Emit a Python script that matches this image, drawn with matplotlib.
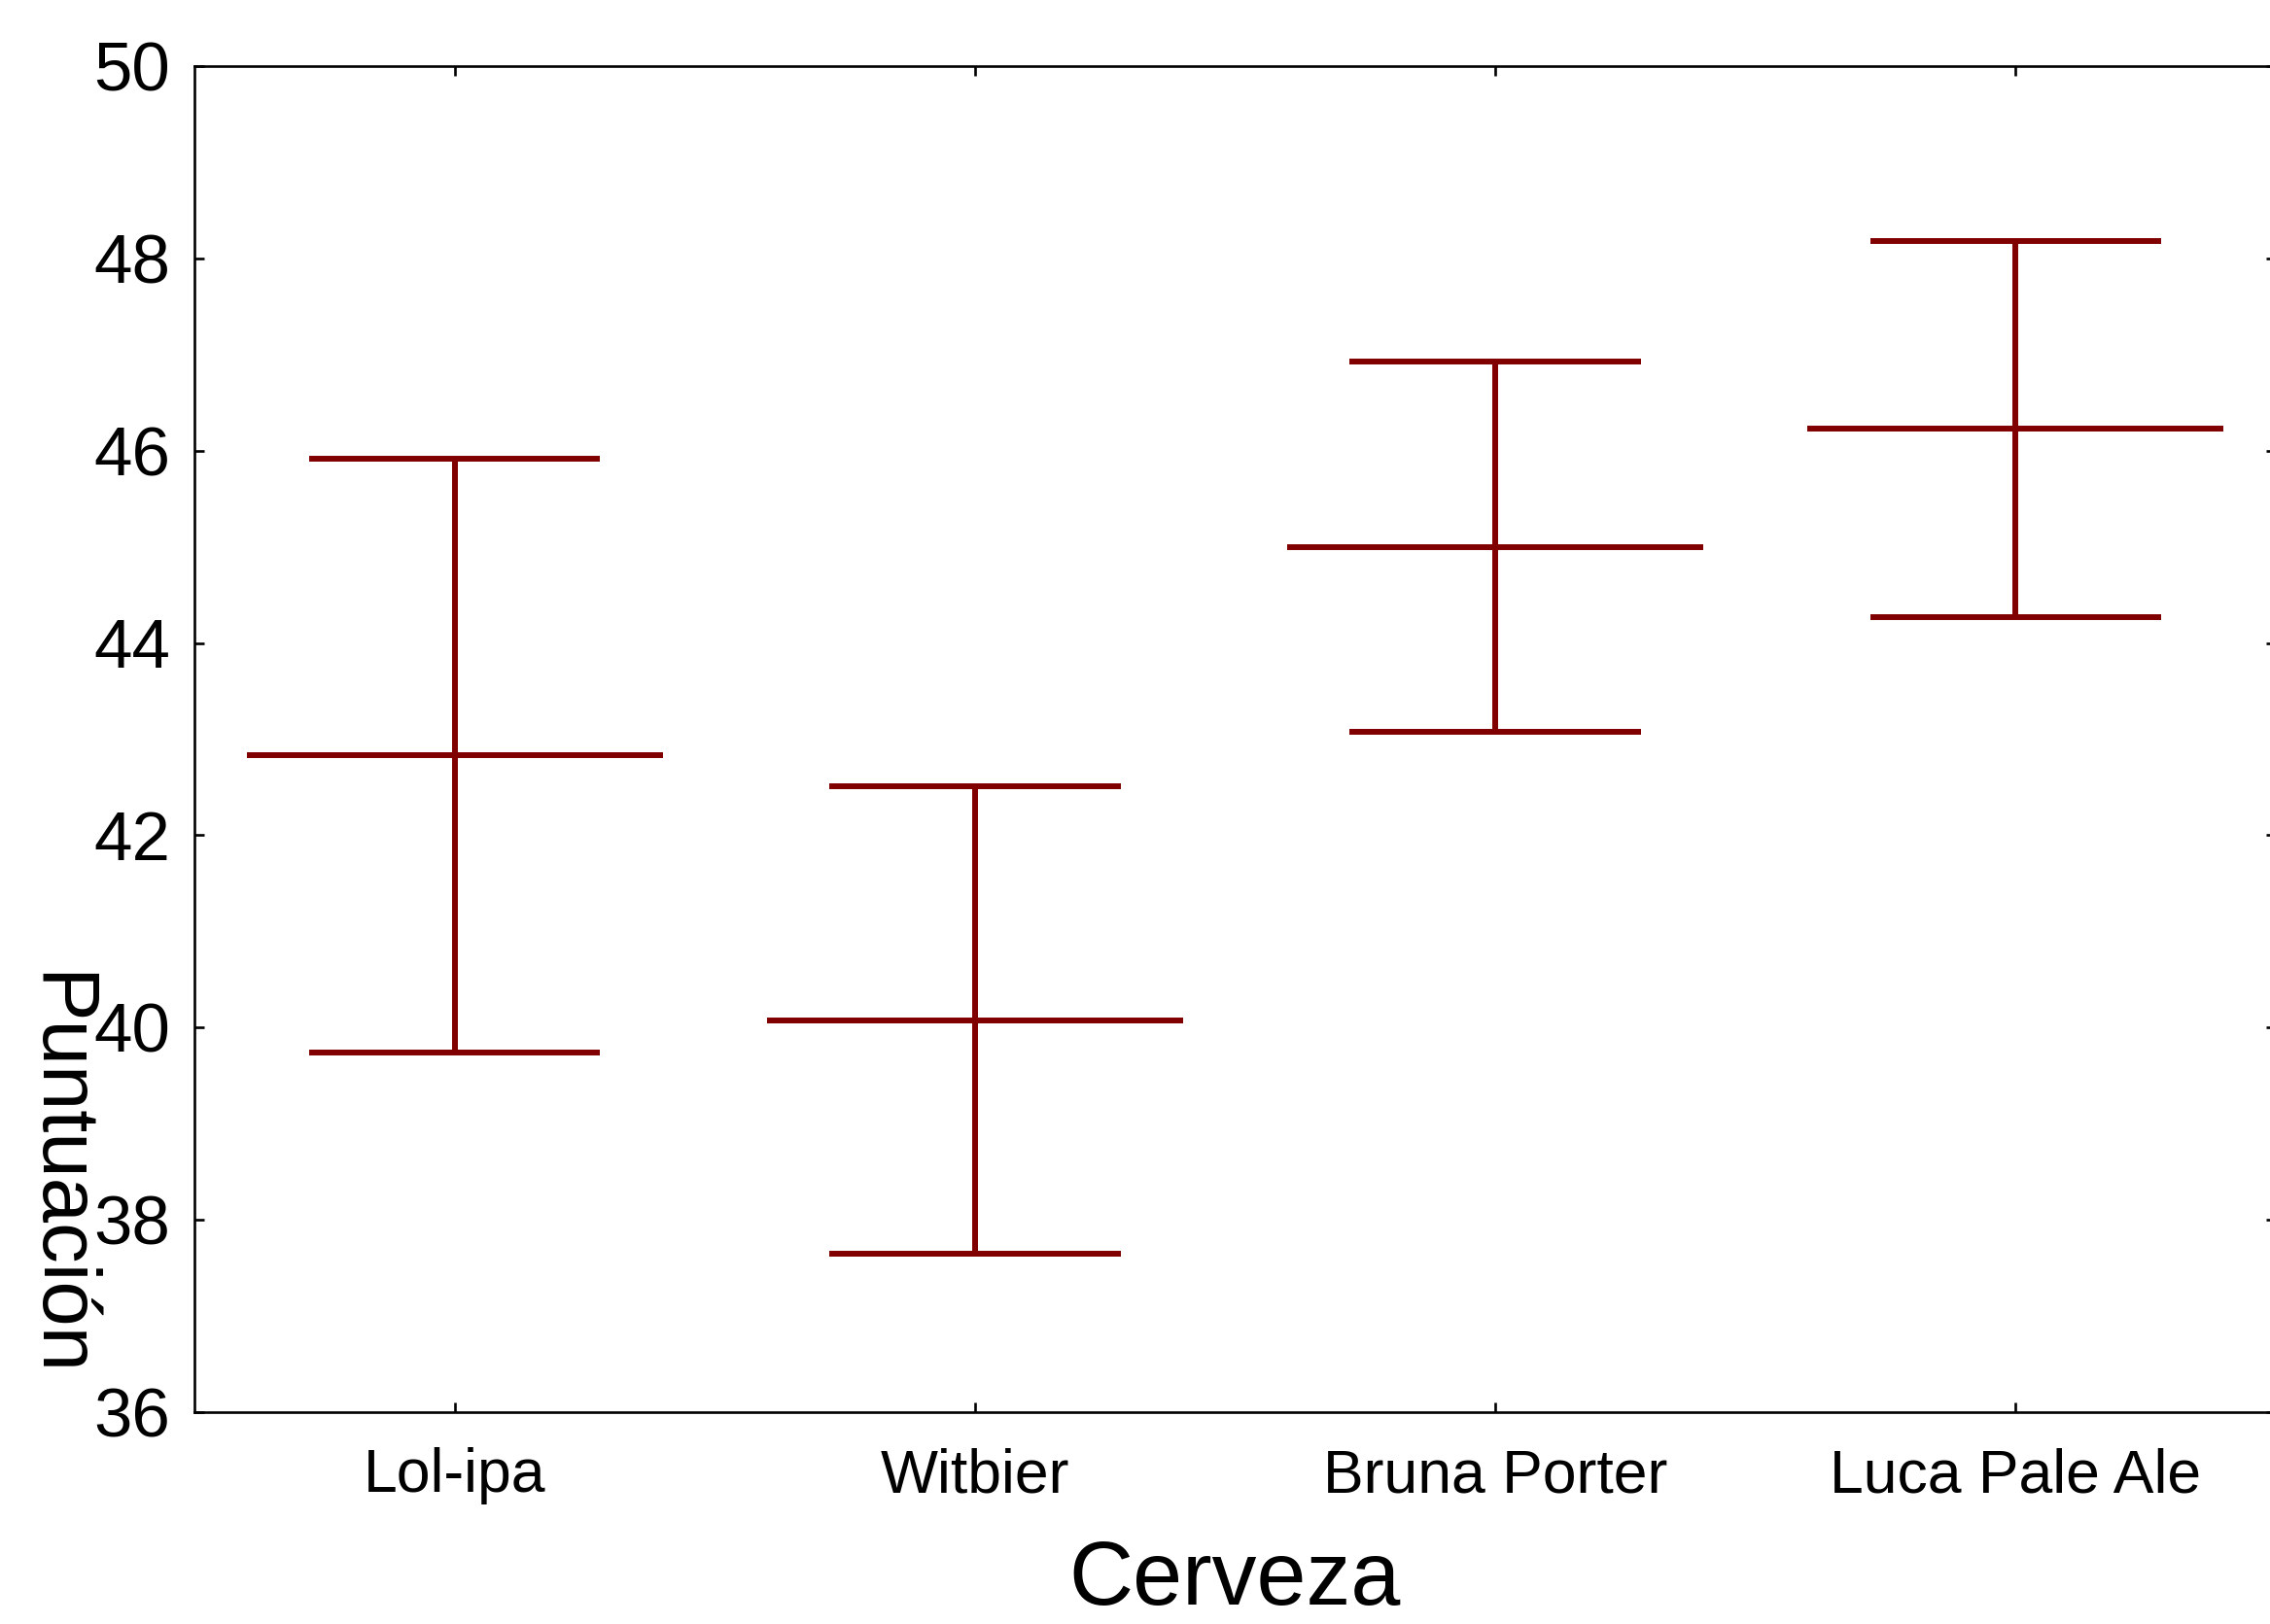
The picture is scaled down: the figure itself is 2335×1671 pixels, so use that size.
import matplotlib
matplotlib.use("Agg")
import matplotlib.pyplot as plt

plt.rcParams['font.family'] = ['Liberation Sans', 'DejaVu Sans']

categories = ["Lol-ipa", "Witbier", "Bruna Porter", "Luca Pale Ale"]
means = [42.83, 40.07, 45.00, 46.23]
lower = [39.74, 37.645, 43.08, 44.27]
upper = [45.92, 42.51, 46.93, 48.18]
yticks = [36, 38, 40, 42, 44, 46, 48, 50]

W, H = 2335, 1671
fig = plt.figure(figsize=(W / 100, H / 100), dpi=100)
L, R, T, B = 200, 2341, 68, 1453
ax = fig.add_axes([L / W, 1 - B / H, (R - L) / W, (B - T) / H])

color = "#800000"
lw = 4.3
xs = list(range(len(categories)))
mean_hw = 0.40
cap_hw = 0.28
ax.vlines(xs, lower, upper, colors=color, linewidth=lw)
ax.hlines(means, [x - mean_hw for x in xs], [x + mean_hw for x in xs], colors=color, linewidth=lw)
ax.hlines(upper, [x - cap_hw for x in xs], [x + cap_hw for x in xs], colors=color, linewidth=lw)
ax.hlines(lower, [x - cap_hw for x in xs], [x + cap_hw for x in xs], colors=color, linewidth=lw)
for c in ax.collections:
    c.set_capstyle("butt")

ax.set_xlim(-0.5, 3.5)
ax.set_ylim(36, 50)
ax.set_xticks(xs)
ax.set_xticklabels(categories)
ax.set_yticks(yticks)
ax.set_yticklabels([str(v) for v in yticks])

for s in ax.spines.values():
    s.set_linewidth(1.9)
ax.tick_params(axis="both", direction="in", length=7.2, width=1.9,
               top=True, right=True)
ax.tick_params(axis="x", labelsize=45, pad=26)
ax.tick_params(axis="y", labelsize=51, pad=18)

fig.text((L + R) / 2 / W, 20 / H, "Cerveza", fontsize=66,
         ha="center", va="baseline")
fig.text(37 / W, 1 - 1000 / H, "Puntuación", fontsize=60, rotation=270,
         rotation_mode="anchor", ha="left", va="baseline")

fig.savefig("out.png", dpi=100)
